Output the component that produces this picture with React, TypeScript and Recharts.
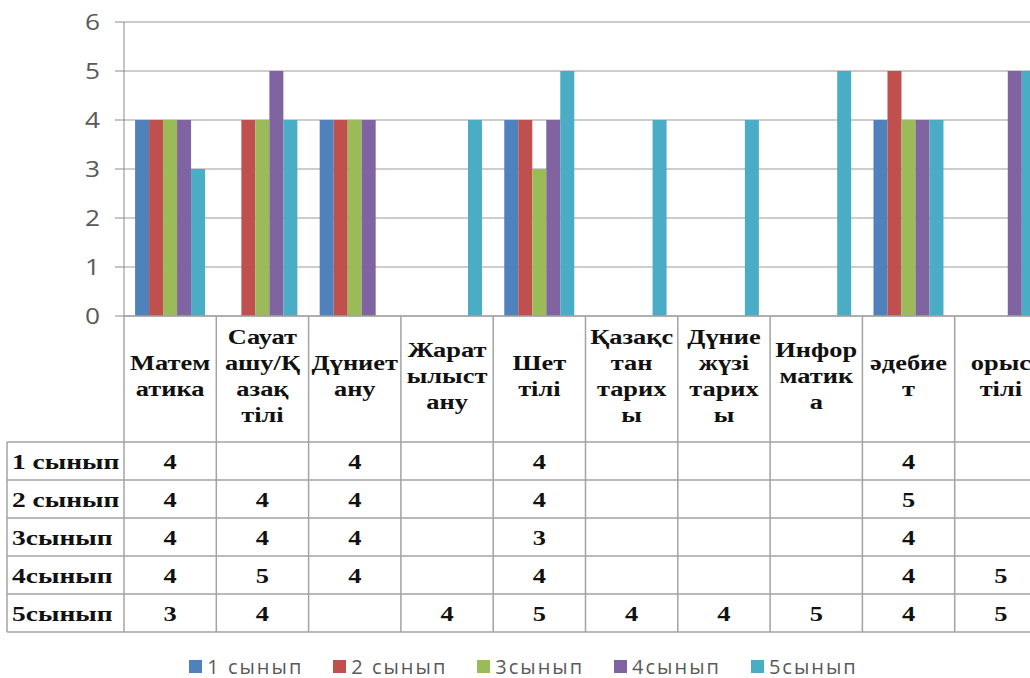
import { BarChart, Bar, XAxis, YAxis, CartesianGrid, Legend } from 'recharts'

const categories = [
  'Математика', 'Сауат ашу/Қазақ тілі', 'Дүниетану', 'Жаратылыстану', 'Шет тілі',
  'Қазақстан тарихы', 'Дүние жүзі тарихы', 'Информатика', 'әдебиет', 'орыс тілі',
]
// header cells are wrapped exactly like in the source table
const categoryLines = [
  ['Матем', 'атика'],
  ['Сауат', 'ашу/Қ', 'азақ', 'тілі'],
  ['Дүниет', 'ану'],
  ['Жарат', 'ылыст', 'ану'],
  ['Шет', 'тілі'],
  ['Қазақс', 'тан', 'тарих', 'ы'],
  ['Дүние', 'жүзі', 'тарих', 'ы'],
  ['Инфор', 'матик', 'а'],
  ['әдебие', 'т'],
  ['орыс', 'тілі'],
]

const grade1 = [4, null, 4, null, 4, null, null, null, 4, null]
const grade2 = [4, 4, 4, null, 4, null, null, null, 5, null]
const grade3 = [4, 4, 4, null, 3, null, null, null, 4, null]
const grade4 = [4, 5, 4, null, 4, null, null, null, 4, 5]
const grade5 = [3, 4, null, 4, 5, 4, 4, 5, 4, 5]

const yTicks = [0, 1, 2, 3, 4, 5, 6]

const series = [
  { key: 's1', name: '1 сынып', color: '#4F81BD', values: grade1 },
  { key: 's2', name: '2 сынып', color: '#C0504D', values: grade2 },
  { key: 's3', name: '3сынып', color: '#9BBB59', values: grade3 },
  { key: 's4', name: '4сынып', color: '#8064A2', values: grade4 },
  { key: 's5', name: '5сынып', color: '#4BACC6', values: grade5 },
]

const data = categories.map((name, i) => {
  const row: Record<string, string | number | null> = { name }
  series.forEach((s) => { row[s.key] = s.values[i] })
  return row
})

const W = 1050
const H = 678
const Y_AXIS_W = 124
const MARGIN = { top: 22, right: 3, left: 0, bottom: 0 }
const BAND = (W - Y_AXIS_W - MARGIN.right) / categories.length

const SERIF = '"Liberation Serif", "Times New Roman", serif'
const LINE = '#a3a3a3'
const STRETCH = 1.2

function TableTick(props: any) {
  const { x, y, payload } = props
  const i = payload.index
  const lines = categoryLines[i]
  const left = x - BAND / 2
  const n = categories.length
  const textProps = {
    fontFamily: SERIF, fontWeight: 700, fontSize: 22, fill: '#111',
    textAnchor: 'middle' as const, dominantBaseline: 'central' as const,
  }

  return (
    <g>
      {i === 0 && (
        <g>
          {[0, 1, 2, 3, 4, 5].map((r) => (
            <line key={r} x1={7} x2={left + n * BAND} y1={y + 126 + r * 38} y2={y + 126 + r * 38}
              stroke={LINE} strokeWidth={1.5} />
          ))}
          <line x1={7} x2={7} y1={y + 126} y2={y + 316} stroke={LINE} strokeWidth={1.5} />
          {series.map((s, r) => (
            <text key={s.key} transform={`translate(12,${y + 145 + r * 38}) scale(1.25,1)`}
              {...textProps} textAnchor="start">{s.name}</text>
          ))}
        </g>
      )}
      <line x1={left} x2={left} y1={y} y2={y + 316} stroke={LINE} strokeWidth={1.5} />
      {i === n - 1 && (
        <line x1={left + BAND} x2={left + BAND} y1={y} y2={y + 316} stroke={LINE} strokeWidth={1.5} />
      )}
      {lines.map((t, k) => (
        <text key={k}
          transform={`translate(${x},${y + 59 + (k - (lines.length - 1) / 2) * 26}) scale(${STRETCH},1)`}
          {...textProps}>{t}</text>
      ))}
      {series.map((s, r) => s.values[i] != null && (
        <text key={s.key} transform={`translate(${x},${y + 145 + r * 38}) scale(${STRETCH},1)`}
          {...textProps}>{s.values[i]}</text>
      ))}
    </g>
  )
}

function ValueTick(props: any) {
  const { x, y, payload } = props
  return (
    <text transform={`translate(${x},${y}) scale(1.25,1)`} textAnchor="end" dominantBaseline="central"
      fontFamily='"Open Sans", sans-serif' fontSize={21} fill="#595959">{payload.value}</text>
  )
}

function LegendContent(props: any) {
  const { payload = [] } = props
  return (
    <div style={{ display: 'flex', justifyContent: 'center', alignItems: 'center', height: 24 }}>
      {payload.map((p: any) => (
        <span key={p.value} style={{ display: 'inline-flex', alignItems: 'center', margin: '0 15px' }}>
          <span style={{ width: 13, height: 13, background: p.color, marginRight: 5 }} />
          <span style={{ fontFamily: '"Open Sans", sans-serif', fontSize: 20, letterSpacing: 2, color: '#595959' }}>
            {p.value}
          </span>
        </span>
      ))}
    </div>
  )
}

export default function App() {
  return (
    <div style={{ position: 'fixed', left: 0, top: 0, width: 1030, height: 678, overflow: 'hidden', background: '#fff' }}>
      <BarChart width={W} height={H} data={data} margin={MARGIN} barCategoryGap="12%" barGap={0}>
        <CartesianGrid vertical={false} stroke="#bdbdbd" strokeWidth={1.5} />
        <XAxis dataKey="name" height={338} interval={0} tickLine={false} tickSize={0} tickMargin={0}
          axisLine={{ stroke: LINE, strokeWidth: 1.5 }} tick={<TableTick />} />
        <YAxis width={Y_AXIS_W} domain={[0, 6]} ticks={yTicks} tickSize={9} tickMargin={15}
          axisLine={{ stroke: '#8a8a8a' }} tickLine={{ stroke: '#8a8a8a' }} tick={<ValueTick />} />
        <Legend verticalAlign="bottom" align="center" content={<LegendContent />} />
        {series.map((s) => (
          <Bar key={s.key} dataKey={s.key} name={s.name} fill={s.color} isAnimationActive={false} />
        ))}
      </BarChart>
    </div>
  )
}
